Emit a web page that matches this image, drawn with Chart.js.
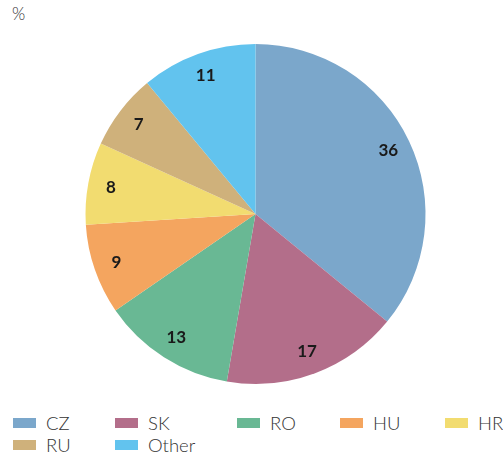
<!DOCTYPE html>
<html>
<head>
<meta charset="utf-8">
<script src="https://cdn.jsdelivr.net/npm/chart.js@4"></script>
<style>
  html, body { margin: 0; padding: 0; background: #fff; }
  body { width: 503px; height: 454px; position: relative; overflow: hidden; font-family: "Lato", sans-serif; }
  #unit { position: absolute; left: 12px; top: 3px; font-size: 17px; color: #333; font-weight: 300; }
  #wrap { position: absolute; left: 0; top: 0; width: 503px; height: 400px; }
  #legend { position: absolute; left: 0; top: 411px; width: 503px; }
  .item { position: absolute; height: 23px; display: flex; align-items: center; font-size: 18.5px; font-weight: 300; color: #333; white-space: nowrap; }
  .box { width: 23px; height: 10px; margin-right: 10px; }
</style>
</head>
<body>
<div id="unit">%</div>
<div id="wrap"><canvas id="chart1"></canvas></div>
<div id="legend"></div>
<script>
document.addEventListener("DOMContentLoaded", () => {
  const labels = ["CZ", "SK", "RO", "HU", "HR", "RU", "Other"];
  const shares = [35.9, 16.8, 12.7, 8.6, 7.8, 7.2, 11.0]; // оцінено за кутами секторів
  const colors = ["#7ba7cb", "#b36e8a", "#69b894", "#f4a55f", "#f2dc70", "#cfb17b", "#62c3ee"];

  // значення всередині секторів (округлені)
  const sliceLabels = {
    id: "sliceLabels",
    afterDatasetsDraw(chart) {
      const ctx = chart.ctx;
      const meta = chart.getDatasetMeta(0);
      ctx.save();
      ctx.font = "bold 17px Lato, sans-serif";
      ctx.fillStyle = "#1a1a1a";
      ctx.textAlign = "center";
      ctx.textBaseline = "middle";
      meta.data.forEach((arc, i) => {
        const mid = (arc.startAngle + arc.endAngle) / 2;
        const r = arc.outerRadius * 0.865;
        ctx.fillText(String(Math.round(shares[i])), arc.x + Math.cos(mid) * r, arc.y + Math.sin(mid) * r);
      });
      ctx.restore();
    },
  };

  const ctx = document.getElementById("chart1").getContext("2d");
  new Chart(ctx, {
    type: "pie",
    data: {
      labels,
      datasets: [{ data: shares, backgroundColor: colors, borderWidth: 0 }],
    },
    options: {
      responsive: true,
      maintainAspectRatio: false,
      animation: false,
      layout: { padding: { top: 44, bottom: 16, left: 8, right: 0 } },
      plugins: { legend: { display: false }, tooltip: { enabled: false } },
    },
    plugins: [sliceLabels],
  });

  // легенда в п'ять колонок
  const colLeft = [13, 115, 237, 340, 445];
  const legend = document.getElementById("legend");
  labels.forEach((name, i) => {
    const item = document.createElement("div");
    item.className = "item";
    item.style.left = colLeft[i % 5] + "px";
    item.style.top = Math.floor(i / 5) * 22 + "px";
    item.innerHTML = `<span class="box" style="background:${colors[i]}"></span>${name}`;
    legend.appendChild(item);
  });
});
</script>
</body>
</html>
